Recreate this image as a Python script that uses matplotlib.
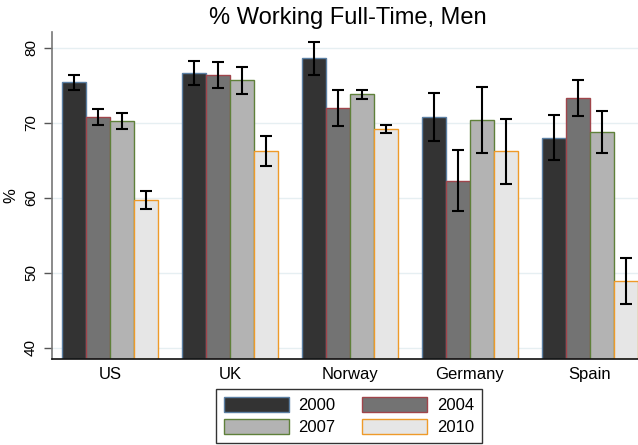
import matplotlib
matplotlib.use("Agg")
import matplotlib.pyplot as plt
import numpy as np
from matplotlib.patches import Patch

plt.rcParams['font.family'] = ['Liberation Sans', 'DejaVu Sans']

countries = ["US", "UK", "Norway", "Germany", "Spain"]
years = ["2000", "2004", "2007", "2010"]
values = {
    "2000": [75.4, 76.7, 78.6, 70.8, 68.0],
    "2004": [70.8, 76.4, 72.0, 62.3, 73.3],
    "2007": [70.2, 75.7, 73.8, 70.4, 68.8],
    "2010": [59.7, 66.3, 69.2, 66.2, 48.9],
}
errors = {
    "2000": [1.0, 1.6, 2.2, 3.2, 3.0],
    "2004": [1.1, 1.75, 2.4, 4.1, 2.35],
    "2007": [1.05, 1.8, 0.6, 4.4, 2.8],
    "2010": [1.15, 2.0, 0.5, 4.3, 3.05],
}
fills = ["#333333", "#737373", "#b3b3b3", "#e6e6e6"]
edges = ["#5b7fa3", "#a0454b", "#5f803a", "#ee9a2a"]

fig = plt.figure(figsize=(6.38, 4.45), dpi=100)
ax = fig.add_axes([52/638, 1-359/445, 586/638, (359-32)/445])

x = np.arange(len(countries))
w = 0.2
base = 38.53
for i, y in enumerate(years):
    xs = x + (i - 1.5) * w
    ax.bar(xs, np.array(values[y]) - base, w, bottom=base, color=fills[i],
           edgecolor=edges[i], linewidth=1.0, zorder=2)
    ax.errorbar(xs, values[y], yerr=errors[y], fmt='none', ecolor='black',
                elinewidth=1.5, capsize=4, capthick=1.5, zorder=3)

ax.set_ylim(base, 82.1)
ax.set_xlim(-0.483, 4.4)
ax.set_yticks([40, 50, 60, 70, 80])
ax.set_yticklabels(["40", "50", "60", "70", "80"], rotation=90, va='center', fontsize=11)
ax.set_xticks(x)
ax.set_xticklabels(countries, fontsize=12)
ax.tick_params(axis='x', length=0, pad=6)
ax.tick_params(axis='y', length=6, width=1, color='#555555', pad=4)
ax.grid(axis='y', color='#e6eff2', linewidth=1, zorder=0)
ax.set_axisbelow(True)
for s in ['top', 'right']:
    ax.spines[s].set_visible(False)
ax.spines['left'].set_color('#777777')
ax.spines['left'].set_linewidth(1.2)
ax.spines['bottom'].set_color('#111111')
ax.spines['bottom'].set_linewidth(1.2)
ax.set_ylabel("%", fontsize=12, labelpad=4)
fig.text(348/638, 1-18/445, "% Working Full-Time, Men", ha='center', va='center', fontsize=17)

handles = {y: Patch(facecolor=fills[i], edgecolor=edges[i], label=y) for i, y in enumerate(years)}
order = ["2000", "2007", "2004", "2010"]
leg = fig.legend(handles=[handles[o] for o in order], labels=order, ncol=2, loc='center',
                 bbox_to_anchor=(349/638, 1-416/445), fontsize=12, frameon=True,
                 fancybox=False, edgecolor='black', handlelength=3.9, handleheight=1.0,
                 columnspacing=1.6, handletextpad=0.6, borderpad=0.45, labelspacing=0.35)
leg.get_frame().set_linewidth(1.0)
fig.savefig("out.png", dpi=100)
